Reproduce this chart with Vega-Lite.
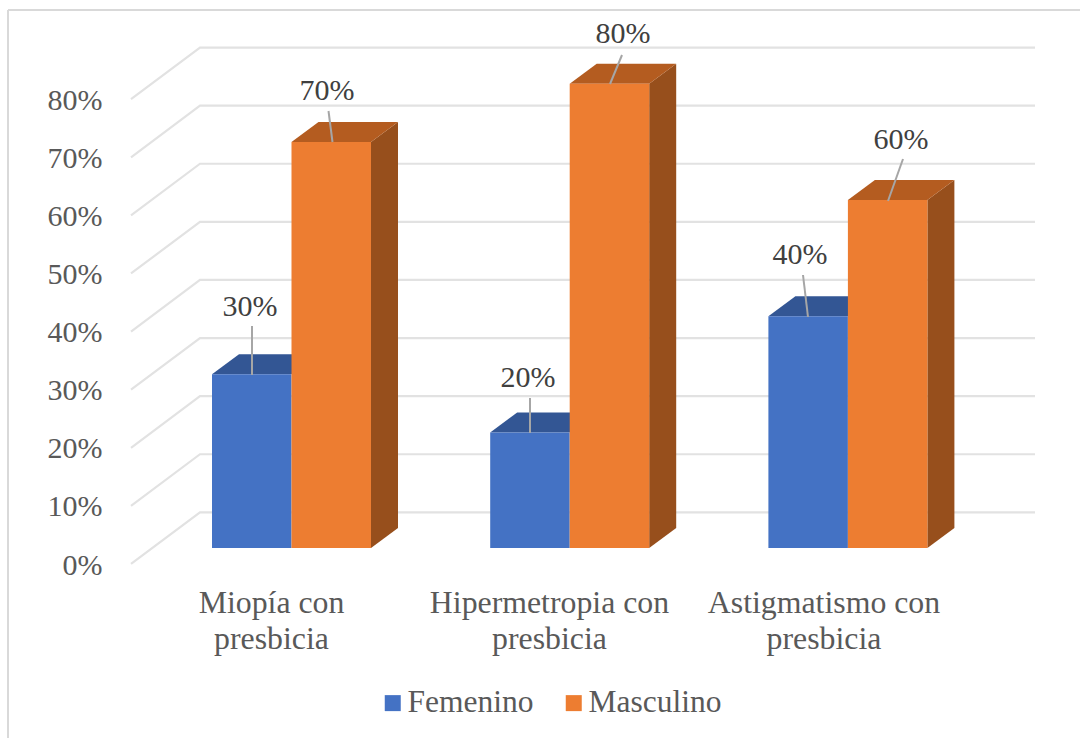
{
"$schema":"https://vega.github.io/schema/vega-lite/v6.json",
"width":1080,"height":738,"autosize":{"type":"none"},"padding":0,"background":"white",
"config":{"view":{"stroke":null}},
"datasets":{
"barras":[
{"categoria":"Miopía con presbicia","genero":"Femenino","valor":30},
{"categoria":"Miopía con presbicia","genero":"Masculino","valor":70},
{"categoria":"Hipermetropia con presbicia","genero":"Femenino","valor":20},
{"categoria":"Hipermetropia con presbicia","genero":"Masculino","valor":80},
{"categoria":"Astigmatismo con presbicia","genero":"Femenino","valor":40},
{"categoria":"Astigmatismo con presbicia","genero":"Masculino","valor":60}
],
"niveles":[{"nivel":0},{"nivel":10},{"nivel":20},{"nivel":30},{"nivel":40},{"nivel":50},{"nivel":60},{"nivel":70},{"nivel":80}],
"categorias":[{"categoria":"Miopía con presbicia","g":0},{"categoria":"Hipermetropia con presbicia","g":1},{"categoria":"Astigmatismo con presbicia","g":2}]
},
"layer":[
{"data":{"values":[{}]},"mark":{"type":"rule","color":"#D9D9D9","strokeWidth":2},
 "encoding":{"x":{"datum":8,"type":"quantitative","scale":{"domain":[0,1080],"range":[0,1080],"nice":false,"zero":false},"axis":null},"y":{"datum":92.6,"type":"quantitative"},"y2":{"datum":-32.7}}},
{"data":{"values":[{}]},"mark":{"type":"rule","color":"#D9D9D9","strokeWidth":2},
 "encoding":{"x":{"datum":8,"type":"quantitative"},"x2":{"datum":1080},"y":{"datum":92.6,"type":"quantitative"}}},
{"data":{"name":"niveles"},
 "transform":[{"calculate":"[0,1,2]","as":"k"},{"flatten":["k"]},
  {"calculate":"[131,200,1035][datum.k]","as":"px"},
  {"calculate":"datum.nivel+[-2.75,6.14,6.14][datum.k]","as":"py"}],
 "mark":{"type":"line","color":"#E2E2E2","strokeWidth":2.2},
 "encoding":{"x":{"field":"px","type":"quantitative"},"y":{"field":"py","type":"quantitative"},"detail":{"field":"nivel"},"order":{"field":"k"}}},
{"data":{"name":"barras"},
 "transform":[
  {"calculate":"indexof(['Miopía con presbicia','Hipermetropia con presbicia','Astigmatismo con presbicia'],datum.categoria)","as":"g"},
  {"filter":"datum.genero==='Masculino'"},
  {"calculate":"371+datum.g*278.2","as":"xl"},
  {"calculate":"[0,1]","as":"k"},{"flatten":["k"]},
  {"calculate":"datum.xl+datum.k*27","as":"px"},
  {"calculate":"datum.valor-0.1+datum.k*3.44","as":"py"},
  {"calculate":"datum.k*3.44","as":"py2"}],
 "mark":{"type":"area","color":"#974F1C","orient":"vertical"},
 "encoding":{"x":{"field":"px","type":"quantitative"},"y":{"field":"py","type":"quantitative"},"y2":{"field":"py2"},"detail":{"field":"g","type":"nominal"}}},
{"data":{"name":"barras"},
 "transform":[
  {"calculate":"indexof(['Miopía con presbicia','Hipermetropia con presbicia','Astigmatismo con presbicia'],datum.categoria)","as":"g"},
  {"filter":"datum.genero==='Masculino'"},
  {"calculate":"291.5+datum.g*278.2","as":"xl"},
  {"calculate":"[0,1,2,3]","as":"k"},{"flatten":["k"]},
  {"calculate":"datum.xl+[0,27,79.5,106.5][datum.k]","as":"px"},
  {"calculate":"datum.valor-0.1+[0,3.44,3.44,3.44][datum.k]","as":"py"},
  {"calculate":"datum.valor-0.1+[0,0,0,3.44][datum.k]","as":"py2"}],
 "mark":{"type":"area","color":"#B45C20","orient":"vertical"},
 "encoding":{"x":{"field":"px","type":"quantitative"},"y":{"field":"py","type":"quantitative"},"y2":{"field":"py2"},"detail":{"field":"g","type":"nominal"}}},
{"data":{"name":"barras"},
 "transform":[
  {"calculate":"indexof(['Miopía con presbicia','Hipermetropia con presbicia','Astigmatismo con presbicia'],datum.categoria)","as":"g"},
  {"filter":"datum.genero==='Femenino'"},
  {"calculate":"212+datum.g*278.2","as":"xl"},
  {"calculate":"[0,1,2,3]","as":"k"},{"flatten":["k"]},
  {"calculate":"datum.xl+[0,27,79.5,106.5][datum.k]","as":"px"},
  {"calculate":"datum.valor-0.1+[0,3.44,3.44,3.44][datum.k]","as":"py"},
  {"calculate":"datum.valor-0.1+[0,0,0,3.44][datum.k]","as":"py2"}],
 "mark":{"type":"area","color":"#335694","orient":"vertical"},
 "encoding":{"x":{"field":"px","type":"quantitative"},"y":{"field":"py","type":"quantitative"},"y2":{"field":"py2"},"detail":{"field":"g","type":"nominal"}}},
{"data":{"name":"barras"},
 "transform":[
  {"calculate":"indexof(['Miopía con presbicia','Hipermetropia con presbicia','Astigmatismo con presbicia'],datum.categoria)","as":"g"},
  {"calculate":"212+datum.g*278.2+(datum.genero==='Masculino'?79.5:0)","as":"xa"},
  {"calculate":"datum.xa+79.5","as":"xb"},
  {"calculate":"datum.valor-0.1","as":"alto"}],
 "mark":{"type":"rect"},
 "encoding":{
  "x":{"field":"xa","type":"quantitative"},"x2":{"field":"xb"},
  "y":{"field":"alto","type":"quantitative","scale":{"domain":[-32.702,94.32],"range":[738,0],"nice":false,"zero":false},
   "axis":{"values":[0,10,20,30,40,50,60,70,80],"labelExpr":"datum.value+'%'","offset":-102,"labelOffset":17,"labelPadding":0,"domain":false,"ticks":false,"grid":false,"title":null,"labelFont":"Liberation Serif","labelFontSize":30,"labelColor":"#595959"}},
  "y2":{"datum":0},
  "color":{"field":"genero","type":"nominal","scale":{"domain":["Femenino","Masculino"],"range":["#4472C4","#ED7D31"]},
   "legend":{"title":null,"orient":"none","legendX":377,"legendY":687,"direction":"horizontal","columns":2,"symbolType":"square","symbolSize":256,"symbolStrokeWidth":0,"labelFont":"Liberation Serif","labelFontSize":31.5,"labelColor":"#595959","labelOffset":-1,"columnPadding":24,"labelLimit":300}}
 }},
{"data":{"name":"barras"},
 "transform":[
  {"calculate":"indexof(['Miopía con presbicia','Hipermetropia con presbicia','Astigmatismo con presbicia'],datum.categoria)*2+(datum.genero==='Masculino'?1:0)","as":"i"},
  {"calculate":"[252,328.5,530,622,803,903][datum.i]","as":"xa"},
  {"calculate":"[252,332.5,530,610,808,888][datum.i]","as":"xb"},
  {"calculate":"(548-[326,111,398,55,275,159][datum.i])/5.81","as":"ya"},
  {"calculate":"(548-[375,142,433,84,317,201][datum.i])/5.81","as":"yb"}],
 "mark":{"type":"rule","color":"#A6A6A6","strokeWidth":2},
 "encoding":{"x":{"field":"xa","type":"quantitative"},"x2":{"field":"xb"},"y":{"field":"ya","type":"quantitative"},"y2":{"field":"yb"}}},
{"data":{"name":"barras"},
 "transform":[
  {"calculate":"indexof(['Miopía con presbicia','Hipermetropia con presbicia','Astigmatismo con presbicia'],datum.categoria)*2+(datum.genero==='Masculino'?1:0)","as":"i"},
  {"calculate":"[250,327,528,623,800,901][datum.i]","as":"xa"},
  {"calculate":"(548-[307,91,378,34,255,140][datum.i])/5.81","as":"ya"},
  {"calculate":"datum.valor+'%'","as":"etiqueta"}],
 "mark":{"type":"text","font":"Liberation Serif","fontSize":30,"color":"#404040"},
 "encoding":{"x":{"field":"xa","type":"quantitative"},"y":{"field":"ya","type":"quantitative"},"text":{"field":"etiqueta"}}},
{"data":{"name":"categorias"},
 "transform":[
  {"calculate":"[271.5,549.5,824][datum.g]","as":"xa"},
  {"calculate":"-6.9","as":"ya"},
  {"calculate":"[replace(datum.categoria,' presbicia',''),'presbicia']","as":"lineas"}],
 "mark":{"type":"text","font":"Liberation Serif","fontSize":31.8,"color":"#595959","baseline":"top","lineHeight":36},
 "encoding":{"x":{"field":"xa","type":"quantitative"},"y":{"field":"ya","type":"quantitative"},"text":{"field":"lineas"}}}
]
}
